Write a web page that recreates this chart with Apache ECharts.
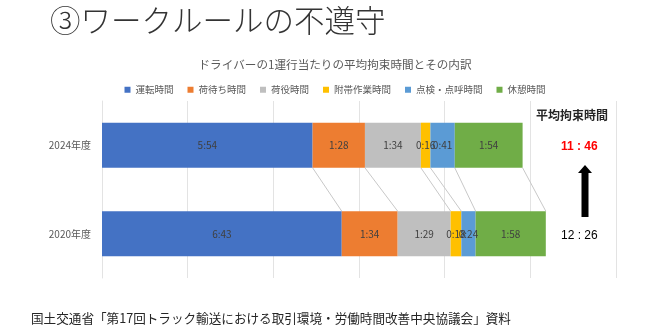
<!DOCTYPE html>
<html>
<head>
<meta charset="utf-8">
<script src="https://cdn.jsdelivr.net/npm/echarts@6/dist/echarts.min.js"></script>
<style>
  html, body { margin: 0; padding: 0; background: #fff; }
  #chart { width: 670px; height: 330px; }
</style>
</head>
<body>
<div id="chart"></div>
<script>
// 年度（下から上の順）
var years = ['2020年度', '2024年度'];
// 内訳の項目
var items = ['運転時間', '荷待ち時間', '荷役時間', '附帯作業時間', '点検・点呼時間', '休憩時間'];
// 各項目の時間（分）: [2020年度, 2024年度]
var minutes2020 = [403, 94, 89, 18, 24, 118];
var minutes2024 = [354, 88, 94, 16, 41, 114];
// 横軸の目盛（0.1日 = 144分）
var axisMax = 864;
var axisStep = 144;
var colors = ['#4472C4', '#ED7D31', '#BFBFBF', '#FFC000', '#5B9BD5', '#70AD47'];

var FONT = 'Noto Sans CJK JP';
var BAR_RATIO = 0.51;

function hm(m) {
    var mm = m % 60;
    return Math.floor(m / 60) + ':' + (mm < 10 ? '0' : '') + mm;
}

(function () {
    var myChart = echarts.init(document.getElementById('chart'));

    // 積み上げ棒
    var series = items.map(function (name, i) {
        return {
            name: name,
            type: 'bar',
            stack: 'total',
            barWidth: (BAR_RATIO * 100) + '%',
            data: [minutes2020[i], minutes2024[i]],
            itemStyle: { color: colors[i] },
            label: {
                show: true,
                position: 'inside',
                color: '#404040',
                fontSize: 10,
                fontFamily: FONT,
                formatter: function (p) { return hm(p.value); }
            }
        };
    });

    // 区切り線（2024年度と2020年度の各区切りを結ぶ）
    var links = [];
    var c20 = 0, c24 = 0;
    for (var i = 0; i < items.length; i++) {
        c20 += minutes2020[i];
        c24 += minutes2024[i];
        links.push([c24, c20, 0]);
    }
    series.push({
        type: 'custom',
        silent: true,
        encode: { x: [0, 1], y: 2 },
        data: links,
        renderItem: function (params, api) {
            var top = api.coord([api.value(0), 1]);
            var bottom = api.coord([api.value(1), 0]);
            var half = api.size([0, 1])[1] * BAR_RATIO / 2;
            return {
                type: 'line',
                shape: { x1: top[0], y1: top[1] + half, x2: bottom[0], y2: bottom[1] - half },
                style: { stroke: '#c8c8c8', lineWidth: 1 }
            };
        }
    });

    var option = {
        animation: false,
        color: colors,
        textStyle: { fontFamily: FONT },
        title: {
            text: 'ドライバーの1運行当たりの平均拘束時間とその内訳',
            left: 'center',
            top: 54,
            textStyle: { fontSize: 11.6, fontWeight: 'normal', color: '#595959', fontFamily: FONT }
        },
        legend: {
            data: items,
            top: 80,
            left: 'center',
            icon: 'rect',
            itemWidth: 6,
            itemHeight: 6,
            itemGap: 14,
            textStyle: { fontSize: 9.5, color: '#595959', fontFamily: FONT }
        },
        grid: {
            left: 102,
            right: 54,
            top: 101,
            bottom: 52,
            containLabel: false
        },
        xAxis: {
            type: 'value',
            min: 0,
            max: axisMax,
            interval: axisStep,
            axisLabel: { show: false },
            axisLine: { show: false },
            axisTick: { show: false },
            splitLine: { lineStyle: { color: '#e3e3e3' } }
        },
        yAxis: {
            type: 'category',
            data: years,
            axisTick: { show: false },
            axisLine: { lineStyle: { color: '#e3e3e3' } },
            axisLabel: { color: '#595959', fontSize: 10, margin: 11, fontFamily: FONT }
        },
        graphic: [
            {
                type: 'text', left: 50, top: 5,
                style: { text: '③ワークルールの不遵守', fontSize: 30.5, fontWeight: 300, fill: '#333', fontFamily: FONT }
            },
            {
                type: 'text', left: 536, top: 109,
                style: { text: '平均拘束時間', fontSize: 12, fontWeight: 'bold', fill: '#262626', fontFamily: FONT }
            },
            {
                type: 'text', left: 561, top: 141,
                style: { text: '11 : 46', fontSize: 12, fontWeight: 'bold', fill: '#ff0000', fontFamily: 'Liberation Sans' }
            },
            {
                type: 'polygon',
                shape: { points: [[585, 165], [592, 173], [588.5, 173], [588.5, 217], [581.5, 217], [581.5, 173], [578, 173]] },
                style: { fill: '#000' }
            },
            {
                type: 'text', left: 561, top: 230,
                style: { text: '12 : 26', fontSize: 12, fill: '#000', fontFamily: 'Liberation Sans' }
            },
            {
                type: 'text', left: 31, top: 312,
                style: { text: '国土交通省「第17回トラック輸送における取引環境・労働時間改善中央協議会」資料', fontSize: 12.6, fill: '#262626', fontFamily: FONT }
            }
        ],
        series: series
    };
    myChart.setOption(option);
    window.addEventListener('resize', function () {
        myChart.resize();
    });
})();
</script>
</body>
</html>
